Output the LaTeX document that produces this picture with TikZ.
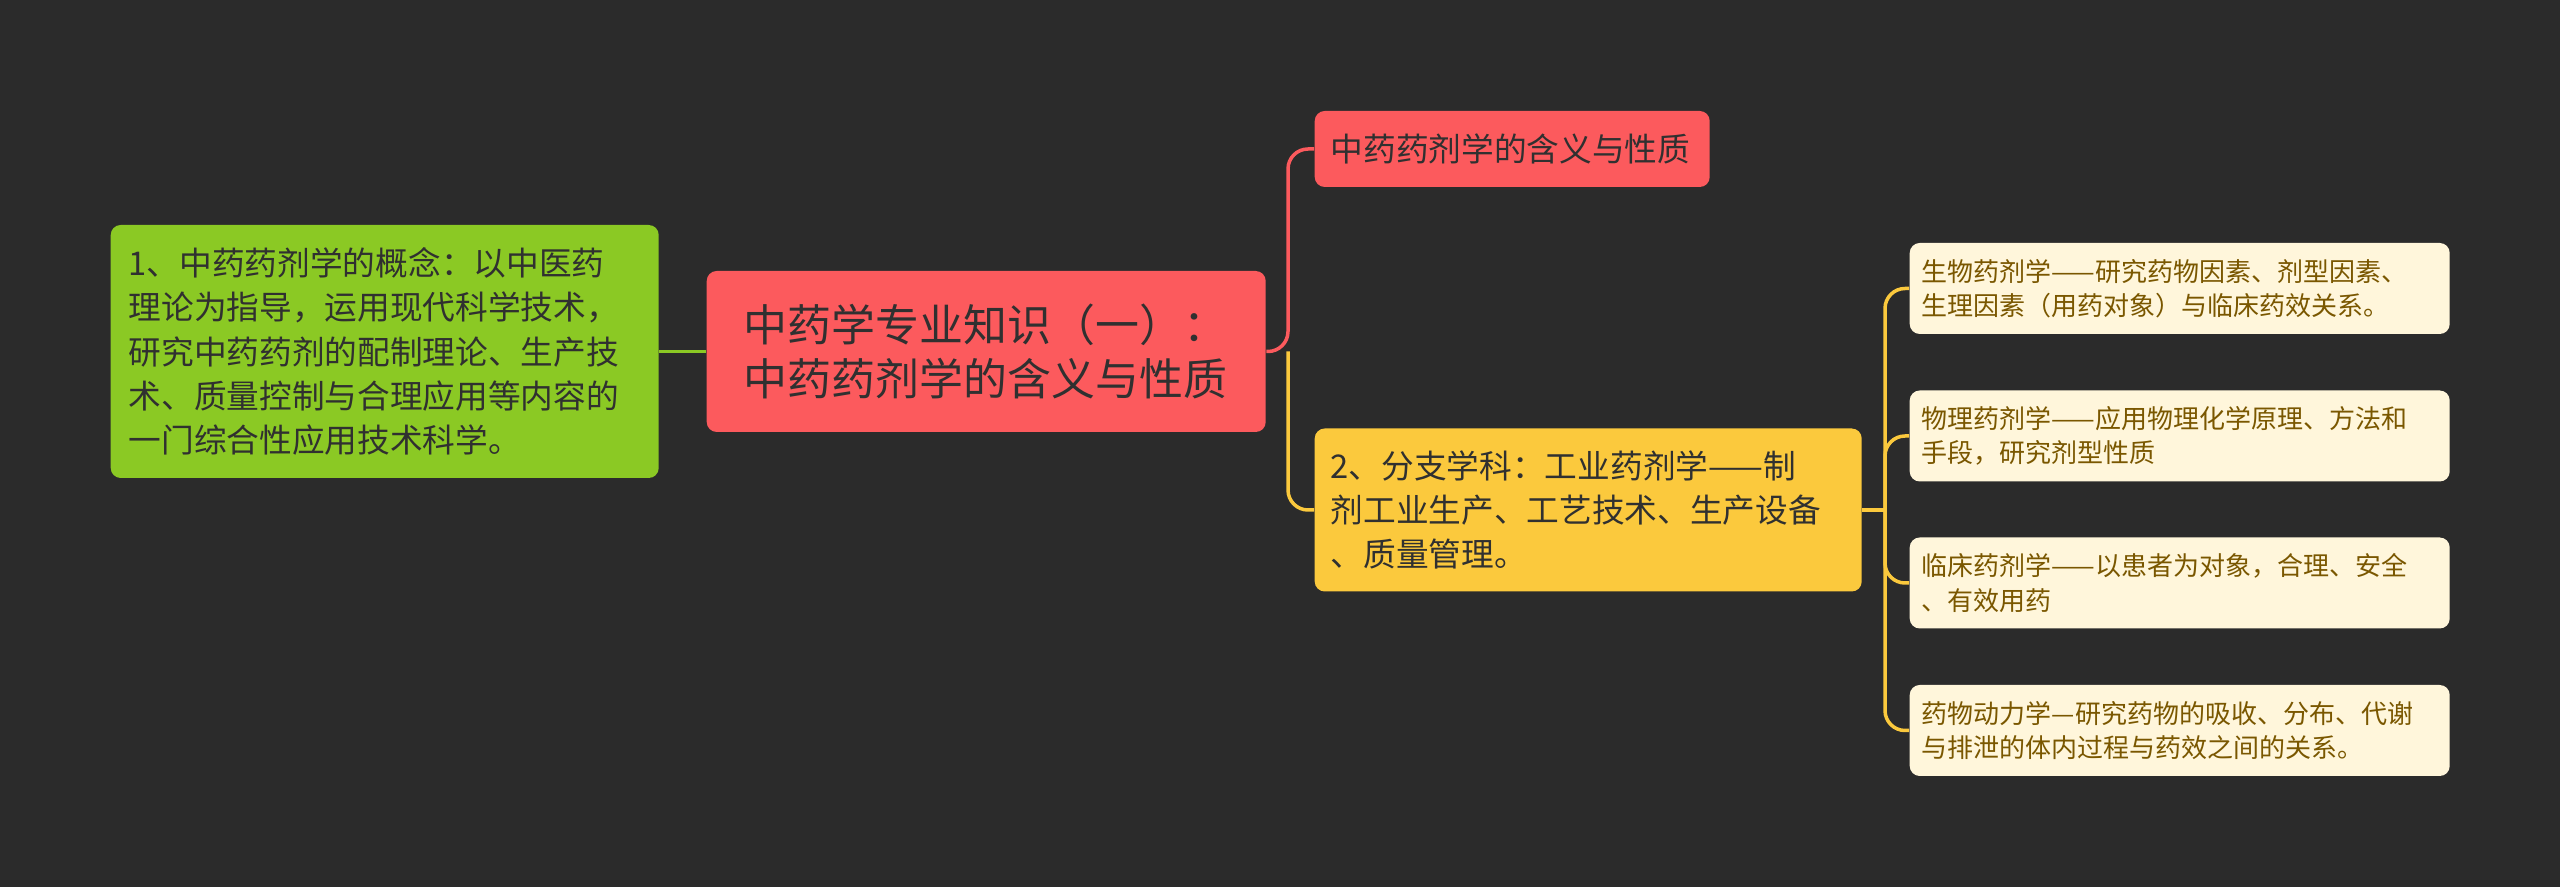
\documentclass[tikz,border=0pt]{standalone}
\usepackage{fontspec}
\setmainfont{Noto Sans CJK SC}
\definecolor{bg}{HTML}{2B2B2B}
\definecolor{mmgreen}{HTML}{8BC924}
\definecolor{mmred}{HTML}{FC5A5D}
\definecolor{mmyellow}{HTML}{FBC93D}
\definecolor{mmcream}{HTML}{FFF6DB}
\definecolor{mmtext}{HTML}{303030}
\definecolor{leaftext}{HTML}{7A5700}
\tikzset{box/.style={rectangle, rounded corners=0.1cm, anchor=west, align=left, inner ysep=0pt}}
\tikzset{rootbox/.style={box, fill=mmred, text=mmtext, minimum height=1.61cm, inner xsep=0.37cm, text width=4.85cm, font=\fontsize{12.5}{15.6}\selectfont}}
\tikzset{midbox/.style={box, text=mmtext, inner xsep=0.16cm, font=\fontsize{9.3}{12.6}\selectfont}}
\tikzset{leafbox/.style={box, fill=mmcream, text=leaftext, minimum height=0.91cm, inner xsep=0.12cm, text width=5.16cm, font=\fontsize{7.4}{9.7}\selectfont}}
\tikzset{link/.style={line width=0.035cm, rounded corners=0.2cm}}

\begin{document}
\begin{tikzpicture}
		% Background
		\fill[bg] (0,0) rectangle (25.6,-8.87);
		\useasboundingbox (0,0) rectangle (25.6,-8.87);

		% Nodes
		\node[rootbox] (root) at (7.06,-3.515) {中药学专业知识（一）：\\中药药剂学的含义与性质};
		\node[midbox, fill=mmgreen, minimum height=2.53cm, inner xsep=0.18cm, text width=5.12cm] (concept) at (1.10,-3.515)
			{1、中药药剂学的概念：以中医药\\理论为指导，运用现代科学技术，\\研究中药药剂的配制理论、生产技\\术、质量控制与合理应用等内容的\\一门综合性应用技术科学。};
		\node[midbox, fill=mmred, minimum height=0.76cm, text width=3.63cm] (meaning) at (13.14,-1.49) {中药药剂学的含义与性质};
		\node[midbox, fill=mmyellow, minimum height=1.63cm, text width=5.15cm] (branch) at (13.14,-5.10)
			{2、分支学科：工业药剂学——制\\剂工业生产、工艺技术、生产设备\\、质量管理。};
		\node[leafbox] (leaf1) at (19.09,-2.885) {生物药剂学——研究药物因素、剂型因素、\\生理因素（用药对象）与临床药效关系。};
		\node[leafbox] (leaf2) at (19.09,-4.36) {物理药剂学——应用物理化学原理、方法和\\手段，研究剂型性质};
		\node[leafbox] (leaf3) at (19.09,-5.83) {临床药剂学——以患者为对象，合理、安全\\、有效用药};
		\node[leafbox] (leaf4) at (19.09,-7.305) {药物动力学—研究药物的吸收、分布、代谢\\与排泄的体内过程与药效之间的关系。};

		% Forks
		\coordinate (rfork) at (12.88,-3.515);
		\coordinate (bfork) at (18.85,-5.10);

		% Connectors
		\draw[link, mmgreen] (root.west) -- (concept.east);
		\draw[link, mmred] (root.east) -- (rfork) |- (meaning.west);
		\draw[link, mmyellow] (rfork) |- (branch.west);
		\draw[link, mmyellow] (branch.east) -- (bfork);
		\foreach \n in {1,...,4}
			\draw[link, mmyellow] (bfork) |- (leaf\n.west);
	\end{tikzpicture}
\end{document}
